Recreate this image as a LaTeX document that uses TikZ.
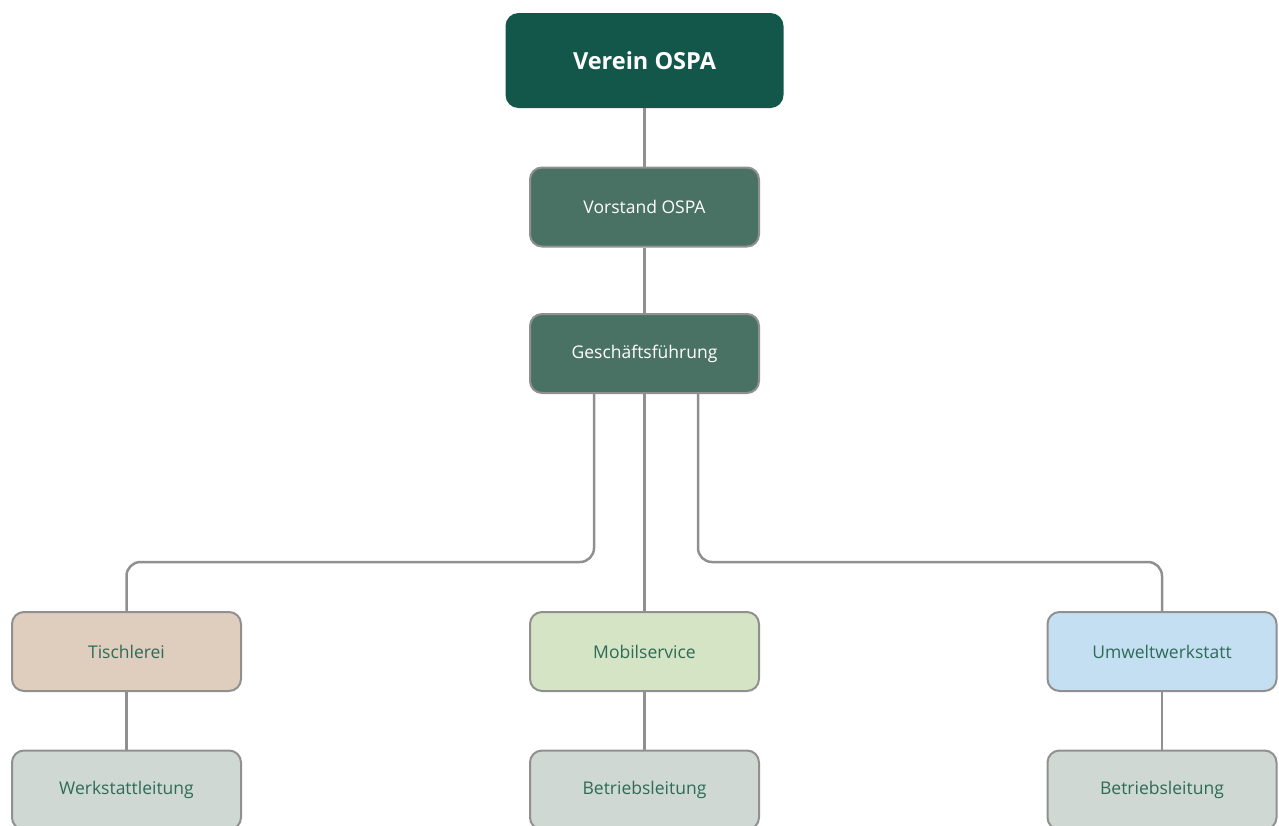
\documentclass[tikz,border=0pt]{standalone}
\usepackage{fontspec}
\setmainfont{Open Sans}
\definecolor{topgreen}{HTML}{12574A}
\definecolor{midgreen}{HTML}{4A7264}
\definecolor{linegray}{HTML}{909090}
\definecolor{tischfill}{HTML}{DFCEBD}
\definecolor{mobilfill}{HTML}{D4E4C4}
\definecolor{umweltfill}{HTML}{C5DFF2}
\definecolor{leitfill}{HTML}{CFD8D3}
\definecolor{textgreen}{HTML}{2E6B58}
\tikzset{
  box/.style={draw=linegray, line width=2pt, rounded corners=12pt, minimum width=229pt, minimum height=79pt, inner sep=0pt, font=\fontsize{17.5}{21}\selectfont},
  topbox/.style={fill=topgreen, draw=none, rounded corners=13pt, minimum width=278pt, minimum height=95pt, text=white, font=\fontsize{23.5}{28}\selectfont\bfseries},
  midbox/.style={box, fill=midgreen, text=white},
  unitbox/.style={box, text=textgreen},
  conn/.style={draw=linegray, line width=2.5pt},
  elbow/.style={conn, rounded corners=14pt}
}
\begin{document}
\begin{tikzpicture}[x=1pt,y=-1pt]
\useasboundingbox (0,0) rectangle (1279,825);
\clip (0,0) rectangle (1279,825);
\node[topbox] (verein) at (644.5,60.5) {Verein OSPA};
\node[midbox] (vorstand) at (644.5,207) {Vorstand OSPA};
\node[midbox] (gf) at (644.5,353.5) {Geschäftsführung};
\node[unitbox, fill=tischfill] (tisch) at (126.5,651.5) {Tischlerei};
\node[unitbox, fill=mobilfill] (mobil) at (644.5,651.5) {Mobilservice};
\node[unitbox, fill=umweltfill] (umwelt) at (1162,651.5) {Umweltwerkstatt};
\node[unitbox, fill=leitfill] (werk) at (126.5,790) {Werkstattleitung};
\node[unitbox, fill=leitfill] (betr1) at (644.5,790) {Betriebsleitung};
\node[unitbox, fill=leitfill] (betr2) at (1162,790) {Betriebsleitung};
\coordinate (gfl) at (594,0);
\coordinate (gfr) at (698,0);
\draw[conn] (verein.south) -- (vorstand.north);
\draw[conn] (vorstand.south) -- (gf.north);
\draw[conn] (gf.south) -- (mobil.north);
\draw[elbow] (gf.south -| gfl) -- (594,562) -- (tisch.north |- 0,562) -- (tisch.north);
\draw[elbow] (gf.south -| gfr) -- (698,562) -- (umwelt.north |- 0,562) -- (umwelt.north);
\draw[conn] (tisch.south) -- (werk.north);
\draw[conn] (mobil.south) -- (betr1.north);
\draw[conn] (umwelt.south) -- (betr2.north);
\end{tikzpicture}
\end{document}
